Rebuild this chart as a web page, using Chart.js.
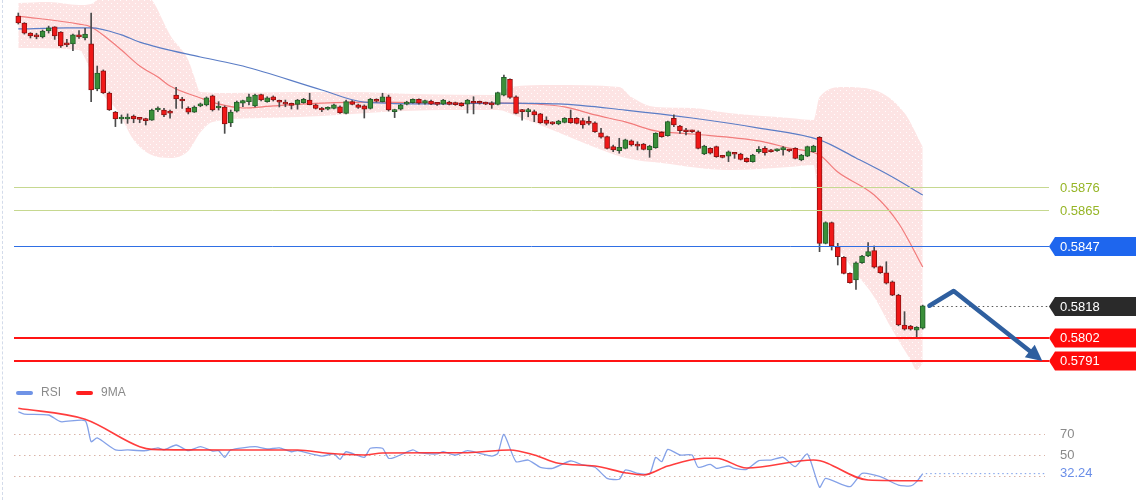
<!DOCTYPE html>
<html>
<head>
<meta charset="utf-8">
<script src="https://cdn.jsdelivr.net/npm/chart.js@4.4.0/dist/chart.umd.min.js"></script>
<style>
  html, body { margin: 0; padding: 0; background: #fff; }
  #wrap { position: relative; width: 1140px; height: 500px; overflow: hidden; background: #fff; }
  #wrap canvas { position: absolute; left: 0; }
  #priceChart { top: 0; }
  #rsiChart { top: 380px; }
  #edge { position: absolute; left: 2px; top: 0; height: 500px; border-left: 1px dashed #d3dbea; }
</style>
</head>
<body>
<div id="wrap">
  <canvas id="priceChart" width="1140" height="380"></canvas>
  <canvas id="rsiChart" width="1140" height="120"></canvas>
  <div id="edge"></div>
</div>
<script>
// candles, one per bar (index 0..149)
var opens = [
  0.59595,0.59561,0.59512,0.59503,0.59493,0.59522,0.59542,0.59517,0.59463,0.59459,
  0.59503,0.59488,0.59459,0.59239,0.59327,0.59219,0.59126,0.59092,0.59092,0.59107,
  0.59092,0.59091,0.59087,0.59136,0.59136,0.59126,0.59209,0.59190,0.59146,0.59126,
  0.59156,0.59161,0.59205,0.59146,0.59151,0.59073,0.59131,0.59169,0.59177,0.59156,
  0.59211,0.59177,0.59201,0.59182,0.59172,0.59165,0.59164,0.59172,0.59185,0.59161,
  0.59140,0.59140,0.59144,0.59152,0.59120,0.59177,0.59161,0.59156,0.59144,0.59188,
  0.59177,0.59201,0.59128,0.59140,0.59165,0.59172,0.59188,0.59170,0.59180,0.59169,
  0.59165,0.59175,0.59172,0.59169,0.59165,0.59177,0.59177,0.59172,0.59165,0.59164,
  0.59209,0.59286,0.59201,0.59136,0.59128,0.59128,0.59117,0.59087,0.59076,0.59068,
  0.59076,0.59096,0.59096,0.59084,0.59079,0.59074,0.59025,0.59006,0.58957,0.58937,
  0.58949,0.58986,0.58965,0.58970,0.58941,0.58952,0.59027,0.59011,0.59096,0.59058,
  0.59035,0.59035,0.59030,0.58921,0.58949,0.58957,0.58911,0.58911,0.58925,0.58921,
  0.58900,0.58884,0.58932,0.58949,0.58941,0.58937,0.58941,0.58941,0.58949,0.58892,
  0.58911,0.58932,0.59003,0.58485,0.58586,0.58468,0.58417,0.58338,0.58306,0.58390,
  0.58423,0.58449,0.58371,0.58341,0.58297,0.58232,0.58086,0.58081,0.58061,0.58070
];
var highs = [
  0.59610,0.59563,0.59514,0.59511,0.59527,0.59546,0.59543,0.59519,0.59481,0.59507,
  0.59524,0.59535,0.59609,0.59351,0.59332,0.59224,0.59129,0.59112,0.59117,0.59112,
  0.59100,0.59096,0.59141,0.59152,0.59144,0.59136,0.59247,0.59198,0.59152,0.59156,
  0.59170,0.59200,0.59209,0.59177,0.59156,0.59136,0.59180,0.59185,0.59214,0.59214,
  0.59214,0.59201,0.59205,0.59185,0.59185,0.59170,0.59188,0.59193,0.59218,0.59165,
  0.59149,0.59152,0.59165,0.59156,0.59185,0.59182,0.59165,0.59161,0.59193,0.59191,
  0.59218,0.59209,0.59140,0.59164,0.59179,0.59191,0.59191,0.59185,0.59184,0.59174,
  0.59188,0.59179,0.59175,0.59172,0.59188,0.59201,0.59180,0.59175,0.59177,0.59224,
  0.59307,0.59288,0.59205,0.59140,0.59144,0.59136,0.59120,0.59103,0.59079,0.59086,
  0.59099,0.59136,0.59099,0.59096,0.59103,0.59078,0.59047,0.59009,0.58965,0.58998,
  0.58994,0.58990,0.58981,0.58973,0.58964,0.59025,0.59030,0.59082,0.59112,0.59061,
  0.59047,0.59038,0.59034,0.58964,0.58952,0.58960,0.58915,0.58936,0.58928,0.58925,
  0.58903,0.58920,0.58957,0.58957,0.58944,0.58947,0.58957,0.58944,0.58952,0.58920,
  0.58960,0.58964,0.59006,0.58590,0.58589,0.58485,0.58420,0.58341,0.58394,0.58426,
  0.58488,0.58472,0.58374,0.58395,0.58301,0.58236,0.58151,0.58084,0.58078,0.58183
];
var lows = [
  0.59556,0.59507,0.59488,0.59484,0.59488,0.59512,0.59481,0.59442,0.59445,0.59426,
  0.59486,0.59478,0.59177,0.59230,0.59217,0.59134,0.59055,0.59071,0.59071,0.59074,
  0.59074,0.59063,0.59085,0.59128,0.59103,0.59096,0.59144,0.59144,0.59117,0.59124,
  0.59152,0.59156,0.59131,0.59136,0.59022,0.59055,0.59126,0.59152,0.59161,0.59151,
  0.59180,0.59174,0.59180,0.59151,0.59152,0.59141,0.59140,0.59169,0.59161,0.59141,
  0.59128,0.59136,0.59141,0.59120,0.59117,0.59161,0.59144,0.59097,0.59141,0.59175,
  0.59175,0.59131,0.59099,0.59136,0.59161,0.59169,0.59165,0.59165,0.59162,0.59159,
  0.59162,0.59161,0.59159,0.59154,0.59121,0.59117,0.59165,0.59162,0.59144,0.59161,
  0.59205,0.59193,0.59117,0.59087,0.59103,0.59079,0.59071,0.59063,0.59064,0.59064,
  0.59073,0.59071,0.59068,0.59047,0.59063,0.59027,0.58998,0.58946,0.58932,0.58925,
  0.58946,0.58960,0.58941,0.58941,0.58905,0.58949,0.59003,0.59008,0.59055,0.59022,
  0.59014,0.59027,0.58946,0.58918,0.58921,0.58905,0.58902,0.58884,0.58900,0.58892,
  0.58881,0.58881,0.58925,0.58916,0.58930,0.58934,0.58916,0.58932,0.58897,0.58888,
  0.58908,0.58930,0.58444,0.58482,0.58452,0.58379,0.58335,0.58290,0.58260,0.58387,
  0.58420,0.58364,0.58338,0.58286,0.58229,0.58082,0.58061,0.58061,0.58021,0.58066
];
var closes = [
  0.59561,0.59512,0.59498,0.59493,0.59522,0.59537,0.59498,0.59449,0.59454,0.59503,
  0.59493,0.59507,0.59234,0.59317,0.59219,0.59136,0.59092,0.59102,0.59102,0.59092,
  0.59090,0.59084,0.59136,0.59141,0.59112,0.59121,0.59190,0.59180,0.59126,0.59151,
  0.59165,0.59195,0.59136,0.59151,0.59068,0.59126,0.59175,0.59182,0.59201,0.59209,
  0.59185,0.59196,0.59185,0.59174,0.59165,0.59159,0.59185,0.59188,0.59162,0.59144,
  0.59136,0.59149,0.59161,0.59123,0.59177,0.59164,0.59149,0.59140,0.59188,0.59179,
  0.59201,0.59136,0.59136,0.59161,0.59175,0.59188,0.59169,0.59182,0.59165,0.59164,
  0.59185,0.59164,0.59162,0.59157,0.59185,0.59169,0.59169,0.59165,0.59161,0.59221,
  0.59296,0.59198,0.59120,0.59128,0.59136,0.59112,0.59074,0.59071,0.59068,0.59082,
  0.59096,0.59074,0.59071,0.59063,0.59071,0.59030,0.59003,0.58949,0.58941,0.58954,
  0.58990,0.58965,0.58960,0.58944,0.58960,0.59022,0.59006,0.59079,0.59063,0.59035,
  0.59030,0.59030,0.58949,0.58960,0.58925,0.58908,0.58905,0.58932,0.58920,0.58895,
  0.58884,0.58916,0.58944,0.58928,0.58932,0.58944,0.58952,0.58936,0.58900,0.58916,
  0.58957,0.58960,0.58485,0.58586,0.58472,0.58420,0.58338,0.58293,0.58390,0.58423,
  0.58444,0.58368,0.58341,0.58290,0.58232,0.58086,0.58065,0.58065,0.58075,0.58180
];

// bollinger band and moving averages, read at a few bars each
var upperIdx  = [0,5,10,12,14,17,20,22,25,28,29,30,35,45,55,65,79,81,88,99,101,105,111,117,127,131,132,136,141,146,149];
var upperBand = [0.59659,0.59664,0.59649,0.59654,0.59703,0.59742,0.59713,0.59674,0.59503,0.59380,
                 0.59297,0.59224,0.59219,0.59224,0.59224,0.59214,0.59209,0.59249,0.59258,0.59249,
                 0.59200,0.59151,0.59146,0.59121,0.59097,0.59087,0.59200,0.59249,0.59234,0.59121,0.58955];
var lowerIdx  = [0,10,12,14,16,17,19,22,25,28,30,32,40,50,60,70,79,82,88,94,100,106,117,127,131,132,135,138,141,144,147,148,149];
var lowerBand = [0.59439,0.59429,0.59322,0.59209,0.59146,0.59097,0.58990,0.58916,0.58902,0.58936,
                 0.59027,0.59078,0.59097,0.59107,0.59126,0.59136,0.59136,0.59107,0.59038,0.58965,
                 0.58902,0.58877,0.58843,0.58858,0.58868,0.58648,0.58467,0.58340,0.58223,0.58061,
                 0.57915,0.57866,0.57900];
var midIdx  = [0,10,12,15,17,20,23,25,30,33,37,42,50,60,70,80,85,90,95,100,105,111,122,127,132,135,141,145,149];
var midLine = [0.59595,0.59556,0.59542,0.59478,0.59429,0.59351,0.59297,0.59253,0.59195,0.59166,
               0.59146,0.59156,0.59170,0.59175,0.59170,0.59170,0.59166,0.59151,0.59112,0.59078,
               0.59034,0.59019,0.58985,0.58950,0.58916,0.58833,0.58721,0.58584,0.58369];
var slowIdx  = [0,8,12,17,20,30,37,50,57,69,79,89,100,111,122,132,138,144,149];
var slowLine = [0.59532,0.59537,0.59537,0.59503,0.59468,0.59395,0.59351,0.59234,0.59175,0.59166,
                0.59170,0.59166,0.59136,0.59097,0.59048,0.58990,0.58902,0.58809,0.58721];

// price levels on the right
var levelValues = [0.5876, 0.5865, 0.5847, 0.5818, 0.5802, 0.5791];
var levelLabels = ['0.5876', '0.5865', '0.5847', '0.5818', '0.5802', '0.5791'];

// forecast arrow (bar index, price)
var arrowIdx = [150.1, 154.1, 168.7];
var arrowPrice = [0.5818, 0.58252, 0.5791];

// RSI panel
var rsiIdx = [0,1,5,7,11,12,13,16,18,21,23,24,26,28,30,32,33,34,35,39,41,43,45,46,50,52,53,54,57,58,
              60,61,62,65,66,69,70,72,74,76,78,79,80,82,84,86,88,91,93,95,97,99,100,102,104,105,106,107,109,111,
              112,114,115,117,118,120,122,124,126,128,130,132,133,137,139,142,145,147,148,149];
var rsiValues = [91.2,89.0,88.1,81.7,82.7,62.7,66.2,54.8,54.8,54.1,56.7,54.8,59.5,54.1,57.9,53.8,54.1,47.8,54.8,57.9,
                 55.7,56.7,53.1,54.1,49.0,51.0,45.9,53.1,47.8,56.4,56.4,46.9,47.8,54.8,52.2,51.0,53.1,50.0,54.1,51.6,
                 49.0,51.6,69.7,43.6,45.2,38.3,37.3,44.3,40.5,38.3,27.8,26.9,35.7,32.6,31.9,47.8,43.6,55.4,50.0,50.0,
                 38.3,41.1,37.3,39.5,37.3,36.4,44.6,45.2,47.8,38.9,51.0,19.2,27.8,19.8,32.6,29.3,21.4,20.5,24.6,32.24];
var rsiMaIdx = [0,11,20,22,35,46,51,57,60,74,81,85,89,95,100,103,107,113,115,120,131,140,149];
var rsiMa = [94.5,84.0,57.9,55.4,54.8,54.8,51.6,50.0,51.9,52.2,54.8,50.0,42.1,39.5,33.1,31.0,39.5,46.9,46.9,37.6,45.2,26.2,25.5];
var rsiLevels = [70, 50, 30];
var rsiLevelLabels = ['70', '50', ''];
var rsiLast = 32.24;

// ---- layout / look ----
var FONT = '"Liberation Sans", Arial, sans-serif';
var PAD_LEFT = 14, PAD_RIGHT = 91;
var X_MIN = -0.708, X_MAX = 169.8;
var LINE_END = 1049, LABEL_X = 1060;

var levelStyles = [
  { line: '#c6d890', width: 1, text: '#96b526' },
  { line: '#c6d890', width: 1, text: '#96b526' },
  { line: '#2f6fe4', width: 1, box: '#1e66ee' },
  { line: '#555', width: 1, dash: [1.5, 3], box: '#2a2a2a', fromLast: true },
  { line: '#ff1414', width: 2, box: '#ff0a0a' },
  { line: '#ff1414', width: 2, box: '#ff0a0a' }
];

function pts(idx, vals) {
  return idx.map(function (x, k) { return { x: x, y: vals[k] }; });
}

var bars = opens.map(function (o, i) { return i; });
var bodies = bars.map(function (i) { return { x: i, y: [opens[i], closes[i]] }; });
var wicks = bars.map(function (i) { return { x: i, y: [lows[i], highs[i]] }; });
var bodyFill = bars.map(function (i) { return closes[i] >= opens[i] ? '#3a8f3a' : '#f01818'; });
var bodyEdge = bars.map(function (i) { return closes[i] >= opens[i] ? '#23602a' : '#8f1212'; });

// pink band with a diagonal dotted texture
function bandFill(ctx) {
  var c = document.createElement('canvas');
  c.width = 6; c.height = 6;
  var g = c.getContext('2d');
  g.fillStyle = 'rgba(252,214,214,0.66)';
  g.fillRect(0, 0, 6, 6);
  g.fillStyle = 'rgba(255,255,255,0.95)';
  g.fillRect(0, 0, 1, 1);
  g.fillRect(3, 3, 1, 1);
  return ctx.createPattern(c, 'repeat');
}

var priceOverlay = {
  id: 'priceOverlay',
  afterDatasetsDraw: function (chart) {
    var ctx = chart.ctx, ys = chart.scales.y, xs = chart.scales.x;
    ctx.save();
    ctx.font = '13px ' + FONT;
    ctx.textBaseline = 'middle';
    levelValues.forEach(function (v, k) {
      var st = levelStyles[k];
      var py = Math.round(ys.getPixelForValue(v)) + (st.width % 2 ? 0.5 : 0);
      var from = st.fromLast ? xs.getPixelForValue(bars.length - 1) + 6 : chart.chartArea.left;
      ctx.beginPath();
      ctx.setLineDash(st.dash || []);
      ctx.strokeStyle = st.line;
      ctx.lineWidth = st.width;
      ctx.moveTo(from, py);
      ctx.lineTo(LINE_END, py);
      ctx.stroke();
      ctx.setLineDash([]);
      if (st.box) {
        ctx.beginPath();
        ctx.moveTo(LINE_END, py);
        ctx.lineTo(LINE_END + 6, py - 9.5);
        ctx.lineTo(1136, py - 9.5);
        ctx.lineTo(1136, py + 9.5);
        ctx.lineTo(LINE_END + 6, py + 9.5);
        ctx.closePath();
        ctx.fillStyle = st.box;
        ctx.fill();
        ctx.fillStyle = '#fff';
      } else {
        ctx.fillStyle = st.text;
      }
      ctx.fillText(levelLabels[k], LABEL_X, py + 0.5);
    });

    // arrow
    var p = arrowIdx.map(function (a, k) {
      return { x: xs.getPixelForValue(a), y: ys.getPixelForValue(arrowPrice[k]) };
    });
    var tip = p[p.length - 1], prev = p[p.length - 2];
    var dx = tip.x - prev.x, dy = tip.y - prev.y, len = Math.sqrt(dx * dx + dy * dy);
    var ux = dx / len, uy = dy / len, head = 16, half = 8;
    var bx = tip.x - ux * head, by = tip.y - uy * head;
    ctx.strokeStyle = '#2f5f9f';
    ctx.fillStyle = '#2f5f9f';
    ctx.lineWidth = 4.5;
    ctx.lineCap = 'round';
    ctx.lineJoin = 'round';
    ctx.beginPath();
    ctx.moveTo(p[0].x, p[0].y);
    for (var k = 1; k < p.length - 1; k++) ctx.lineTo(p[k].x, p[k].y);
    ctx.lineTo(bx + ux * 2, by + uy * 2);
    ctx.stroke();
    ctx.beginPath();
    ctx.moveTo(tip.x, tip.y);
    ctx.lineTo(bx - uy * half, by + ux * half);
    ctx.lineTo(bx + uy * half, by - ux * half);
    ctx.closePath();
    ctx.fill();
    ctx.restore();
  }
};

var priceCanvas = document.getElementById('priceChart');
var priceChart = new Chart(priceCanvas.getContext('2d'), {
  type: 'bar',
  data: {
    datasets: [{
      type: 'line',
      data: pts(upperIdx, upperBand),
      borderWidth: 0,
      pointRadius: 0,
      cubicInterpolationMode: 'monotone',
      fill: '+1',
      backgroundColor: bandFill(priceCanvas.getContext('2d')),
      order: 10
    }, {
      type: 'line',
      data: pts(lowerIdx, lowerBand),
      borderWidth: 0,
      pointRadius: 0,
      cubicInterpolationMode: 'monotone',
      fill: false,
      order: 10
    }, {
      type: 'line',
      data: pts(slowIdx, slowLine),
      borderColor: '#5b7dc6',
      borderWidth: 1.2,
      pointRadius: 0,
      cubicInterpolationMode: 'monotone',
      order: 5
    }, {
      type: 'line',
      data: pts(midIdx, midLine),
      borderColor: 'rgba(240,105,105,0.85)',
      borderWidth: 1.2,
      pointRadius: 0,
      cubicInterpolationMode: 'monotone',
      order: 5
    }, {
      data: wicks,
      backgroundColor: '#4a4a4a',
      barThickness: 1,
      grouped: false,
      order: 2
    }, {
      data: bodies,
      backgroundColor: bodyFill,
      borderColor: bodyEdge,
      borderWidth: 1,
      borderSkipped: false,
      barThickness: 5,
      minBarLength: 2,
      grouped: false,
      order: 1
    }]
  },
  options: {
    responsive: false,
    animation: false,
    events: [],
    layout: { padding: { left: PAD_LEFT, right: PAD_RIGHT, top: 0, bottom: 0 } },
    plugins: { legend: { display: false }, tooltip: { enabled: false } },
    scales: {
      x: { type: 'linear', min: X_MIN, max: X_MAX, offset: false, display: false },
      y: { min: 0.578172, max: 0.596735, display: false }
    }
  },
  plugins: [priceOverlay]
});

var rsiOverlay = {
  id: 'rsiOverlay',
  beforeDatasetsDraw: function (chart) {
    var ctx = chart.ctx, ys = chart.scales.y;
    ctx.save();
    ctx.font = '13px ' + FONT;
    ctx.textBaseline = 'middle';
    rsiLevels.forEach(function (v, k) {
      var py = Math.round(ys.getPixelForValue(v)) + 0.5;
      ctx.beginPath();
      ctx.setLineDash([1.5, 3.5]);
      ctx.strokeStyle = '#d9b4a8';
      ctx.lineWidth = 1;
      ctx.moveTo(chart.chartArea.left, py);
      ctx.lineTo(1045, py);
      ctx.stroke();
      ctx.fillStyle = '#8a8a8a';
      if (rsiLevelLabels[k]) ctx.fillText(rsiLevelLabels[k], LABEL_X, py);
    });
    ctx.restore();
  },
  afterDatasetsDraw: function (chart) {
    var ctx = chart.ctx, ys = chart.scales.y, xs = chart.scales.x;
    ctx.save();
    var py = ys.getPixelForValue(rsiLast);
    ctx.beginPath();
    ctx.setLineDash([1.5, 3]);
    ctx.strokeStyle = '#7b9de8';
    ctx.lineWidth = 1;
    ctx.moveTo(xs.getPixelForValue(rsiIdx[rsiIdx.length - 1]) + 3, py);
    ctx.lineTo(1045, py);
    ctx.stroke();
    ctx.setLineDash([]);
    ctx.font = '13px ' + FONT;
    ctx.textBaseline = 'middle';
    ctx.fillStyle = '#6a8ee8';
    ctx.fillText(String(rsiLast), LABEL_X, py);

    // legend
    ctx.font = '12px ' + FONT;
    ctx.lineCap = 'round';
    ctx.lineWidth = 4;
    [['RSI', '#6f93e6', 18], ['9MA', '#ff2020', 78]].forEach(function (it) {
      ctx.strokeStyle = it[1];
      ctx.beginPath();
      ctx.moveTo(it[2], 13);
      ctx.lineTo(it[2] + 13, 13);
      ctx.stroke();
      ctx.fillStyle = '#8a8a8a';
      ctx.fillText(it[0], it[2] + 23, 12.5);
    });
    ctx.restore();
  }
};

var rsiChart = new Chart(document.getElementById('rsiChart').getContext('2d'), {
  type: 'line',
  data: {
    datasets: [{
      label: 'RSI',
      data: pts(rsiIdx, rsiValues),
      borderColor: 'rgba(110,145,228,0.85)',
      borderWidth: 1.3,
      pointRadius: 0,
      tension: 0.2,
      order: 2
    }, {
      label: '9MA',
      data: pts(rsiMaIdx, rsiMa),
      borderColor: 'rgba(255,40,40,0.9)',
      borderWidth: 1.6,
      pointRadius: 0,
      cubicInterpolationMode: 'monotone',
      order: 1
    }]
  },
  options: {
    responsive: false,
    animation: false,
    events: [],
    layout: { padding: { left: PAD_LEFT, right: PAD_RIGHT, top: 0, bottom: 0 } },
    plugins: { legend: { display: false }, tooltip: { enabled: false } },
    scales: {
      x: { type: 'linear', min: X_MIN, max: X_MAX, display: false },
      y: { min: 7.14, max: 121.43, display: false }
    }
  },
  plugins: [rsiOverlay]
});
</script>
</body>
</html>
